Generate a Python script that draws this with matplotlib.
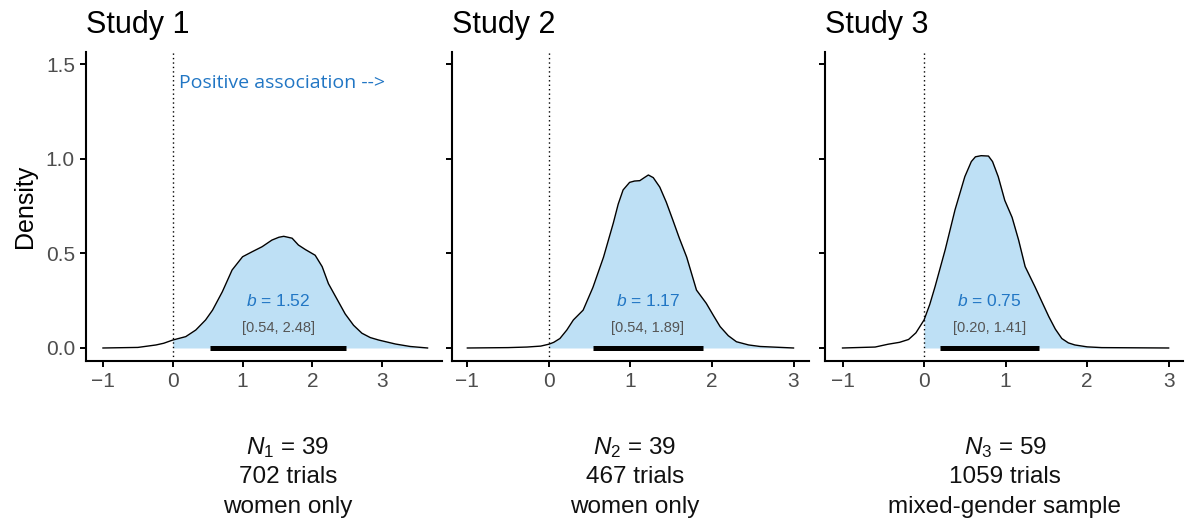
import matplotlib
matplotlib.use("Agg")
import matplotlib.pyplot as plt
import numpy as np

plt.rcParams['font.family'] = ['Liberation Sans', 'DejaVu Sans']
plt.rcParams['mathtext.fontset'] = 'custom'
plt.rcParams['mathtext.rm'] = 'Liberation Sans'
plt.rcParams['mathtext.it'] = 'Liberation Sans:italic'

# posterior density of the slope, one curve per study
x1 = [-1.0, -0.5, -0.24, -0.13, 0.0, 0.186, 0.33, 0.47, 0.57, 0.71, 0.85, 1.0, 1.14,
      1.28, 1.42, 1.52, 1.59, 1.71, 1.8, 1.9, 2.04, 2.14, 2.23, 2.35, 2.47, 2.59, 2.71,
      2.83, 2.95, 3.19, 3.4, 3.65]
d1 = [0.0, 0.003, 0.016, 0.025, 0.042, 0.06, 0.095, 0.148, 0.2, 0.297, 0.412, 0.482, 0.509,
      0.535, 0.57, 0.585, 0.59, 0.58, 0.544, 0.52, 0.49, 0.43, 0.34, 0.26, 0.18, 0.12, 0.078,
      0.055, 0.042, 0.021, 0.008, 0.0]

x2 = [-1.0, -0.5, -0.27, -0.1, 0.0, 0.06, 0.135, 0.22, 0.3, 0.42, 0.54, 0.67, 0.79, 0.85,
      0.91, 0.99, 1.05, 1.115, 1.17, 1.22, 1.28, 1.36, 1.44, 1.52, 1.6, 1.69, 1.81, 1.93,
      2.02, 2.1, 2.2, 2.3, 2.45, 2.59, 3.0]
d2 = [0.0, 0.002, 0.005, 0.01, 0.02, 0.03, 0.05, 0.095, 0.148, 0.2, 0.32, 0.48, 0.66, 0.76,
      0.835, 0.875, 0.882, 0.884, 0.9, 0.914, 0.9, 0.85, 0.77, 0.676, 0.58, 0.48, 0.306, 0.236,
      0.17, 0.113, 0.065, 0.033, 0.016, 0.008, 0.0]

x3 = [-1.0, -0.6, -0.44, -0.3, -0.19, -0.1, 0.0, 0.07, 0.135, 0.26, 0.38, 0.5, 0.58, 0.63,
      0.7, 0.79, 0.84, 0.91, 0.99, 1.08, 1.16, 1.24, 1.36, 1.45, 1.53, 1.61, 1.69, 1.77,
      1.85, 2.0, 2.18, 3.0]
d3 = [0.0, 0.005, 0.02, 0.03, 0.045, 0.08, 0.148, 0.23, 0.324, 0.52, 0.73, 0.905, 0.985, 1.01,
      1.016, 1.014, 0.985, 0.905, 0.78, 0.69, 0.57, 0.43, 0.324, 0.24, 0.166, 0.1, 0.05, 0.027,
      0.016, 0.006, 0.002, 0.0]

titles = ['Study 1', 'Study 2', 'Study 3']
estimates = [1.52, 1.17, 0.75]
ci_low = [0.54, 0.54, 0.20]
ci_high = [2.48, 1.89, 1.41]
n_sub = ['1', '2', '3']
n_part = [39, 39, 59]
n_trials = [702, 467, 1059]
samples = ['women only', 'women only', 'mixed-gender sample']

curves = [(x1, d1), (x2, d2), (x3, d3)]
xlims = [(-1.243, 3.857), (-1.192, 3.19), (-1.215, 3.18)]
lefts = [86 / 1187, 451.7 / 1187, 825 / 1187]
widths = [356 / 1187, 357.3 / 1187, 358.3 / 1187]
note_x = [288 / 1187, 635 / 1187, 1005 / 1187]

blue = '#2176C4'
fill_blue = '#BEE0F5'

fig = plt.figure(figsize=(11.87, 5.27), dpi=100)

for i in range(3):
    ax = fig.add_axes([lefts[i], 0.315, widths[i], 0.5863])
    x = np.array(curves[i][0])
    d = np.array(curves[i][1])

    ax.fill_between(x, d, 0, where=x >= 0, color=fill_blue, lw=0, zorder=1)
    ax.plot(x, d, color='black', lw=1.0, zorder=3, solid_joinstyle='round')
    ax.axvline(0, color='black', ls=(0, (1, 2.2)), lw=1.0, zorder=2)
    ax.hlines(0, ci_low[i], ci_high[i], color='black', lw=3.6, capstyle='butt', zorder=4)

    mid = (ci_low[i] + ci_high[i]) / 2
    ax.text(mid, 0.25, r'$\mathit{b}$ = %.2f' % estimates[i], color=blue,
            fontsize=12.5, ha='center', va='center', zorder=5)
    ax.text(mid, 0.105, '[%.2f, %.2f]' % (ci_low[i], ci_high[i]), color='#555555',
            fontsize=10.5, ha='center', va='center', zorder=5)

    ax.set_xlim(*xlims[i])
    ax.set_ylim(-0.0687, 1.5637)
    ax.set_xticks([-1, 0, 1, 2, 3])
    ax.set_yticks([0, 0.5, 1.0, 1.5])
    if i == 0:
        ax.set_yticklabels(['0.0', '0.5', '1.0', '1.5'])
        ax.set_ylabel('Density', fontsize=18, labelpad=6)
        ax.text(0.09, 1.40, 'Positive association -->', color=blue, fontsize=14,
                family=['Open Sans', 'DejaVu Sans'], ha='left', va='center')
    else:
        ax.set_yticklabels([])

    for s in ['top', 'right']:
        ax.spines[s].set_visible(False)
    for s in ['left', 'bottom']:
        ax.spines[s].set_linewidth(1.5)
    ax.tick_params(length=4, width=1.4, color='black', labelcolor='#4D4D4D',
                   labelsize=15, pad=4)

    ax.set_title(titles[i], loc='left', fontsize=22, pad=14, x=0.0)

    fig.text(note_x[i], 1 - 448 / 527, r'$\mathit{N_%s}$ = %d' % (n_sub[i], n_part[i]),
             ha='center', va='center', fontsize=17.5, color='#111111')
    fig.text(note_x[i], 1 - 477 / 527, '%d trials' % n_trials[i],
             ha='center', va='center', fontsize=17.5, color='#111111')
    fig.text(note_x[i], 1 - 507 / 527, samples[i],
             ha='center', va='center', fontsize=17.5, color='#111111')

fig.savefig('out.png', dpi=100)
